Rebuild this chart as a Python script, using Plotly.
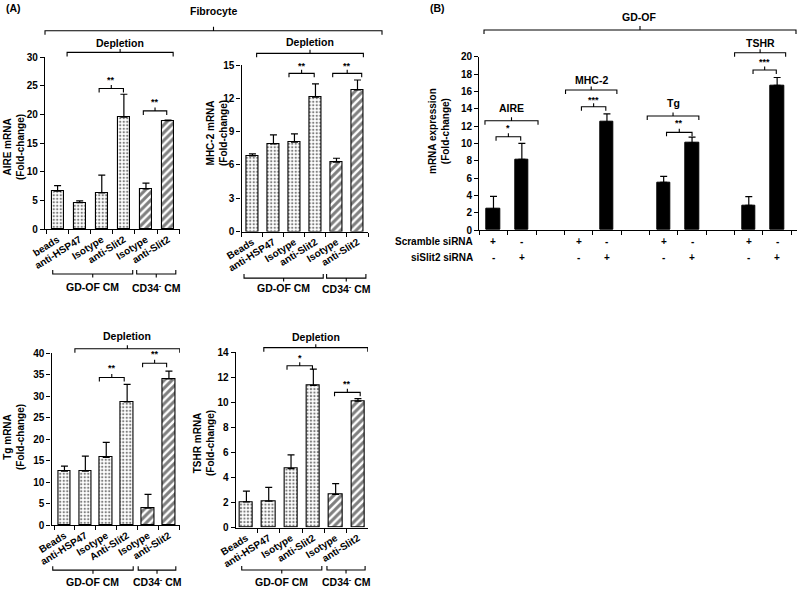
import plotly.graph_objects as go

W, H = 800, 591
FONT = "Arial, Liberation Sans, sans-serif"

# ---------------- data ----------------
labels_aire = ["beads", "anti-HSP47", "Isotype", "anti-Slit2", "Isotype", "anti-Slit2"]
labels_mhc = ["Beads", "anti-HSP47", "Isotype", "anti-Slit2", "Isotype", "anti-Slit2"]
labels_tg = ["Beads", "anti-HSP47", "Isotype", "Anti-Slit2", "Isotype", "anti-Slit2"]
labels_tshr = ["Beads", "anti-HSP47", "Isotype", "anti-Slit2", "Isotype", "anti-Slit2"]

aire_vals = [6.6, 4.6, 6.3, 19.5, 7.0, 18.9]
aire_err = [0.95, 0.3, 3.1, 4.0, 1.0, 0.1]
mhc_vals = [6.8, 7.9, 8.05, 12.1, 6.25, 12.75]
mhc_err = [0.2, 0.8, 0.75, 1.2, 0.35, 0.9]
tg_vals = [12.5, 12.5, 15.7, 28.6, 3.9, 34.0]
tg_err = [1.2, 3.5, 3.5, 4.1, 3.2, 1.8]
tshr_vals = [2.05, 2.1, 4.7, 11.35, 2.65, 10.1]
tshr_err = [0.85, 1.1, 1.1, 1.3, 0.85, 0.2]

genes_b = ["AIRE", "MHC-2", "Tg", "TSHR"]
scramble_vals = [2.42, None, 5.5, 2.85]
scramble_err = [1.45, None, 0.7, 1.0]
siSlit2_vals = [8.15, 12.45, 10.07, 16.7]
siSlit2_err = [1.85, 0.95, 0.65, 0.9]
scramble_signs = ["+", "-"]
siSlit2_signs = ["-", "+"]

fig = go.Figure()

def xdom(a, b):
    return [a / W, b / W]

def ydom(top, bot):
    return [1 - bot / H, 1 - top / H]

dot_pat = dict(shape=".", fgcolor="black", bgcolor="white", size=3.5, solidity=0.35)
hatch_pat = dict(shape="/", fgcolor="black", bgcolor="white", size=5.5, solidity=0.55)

# panel geometry (pixels)
panels = {
    1: dict(x=(45, 180), y=(57, 229), xr=[-0.57, 5.54], ymax=30, dtick=5, bw=0.54),
    2: dict(x=(241.5, 368), y=(65, 231.5), xr=[-0.52, 5.5], ymax=15, dtick=3, bw=0.54),
    3: dict(x=(51.5, 180), y=(353, 525), xr=[-0.62, 5.53], ymax=40, dtick=5, bw=0.6),
    4: dict(x=(235.7, 368), y=(352.3, 527.5), xr=[-0.48, 5.45], ymax=14, dtick=2, bw=0.6),
    5: dict(x=(479.3, 797), y=(56.7, 230), xr=[-0.5, 10.7], ymax=20, dtick=2, bw=0.48),
}

tickfont = dict(family=FONT, size=10, color="black", weight="bold")

def setup_axes(n, ticklabels=None):
    p = panels[n]
    xa = dict(domain=xdom(*p["x"]), range=p["xr"], anchor=f"y{n}", showgrid=False,
              zeroline=False, showline=True, linecolor="black", linewidth=1.3,
              ticks="", fixedrange=True, automargin=False,
              minor=dict(tickvals=[i + 0.5 for i in range(-1, 11)], ticks="outside",
                         ticklen=4, tickwidth=1.2, tickcolor="black", showgrid=False))
    if ticklabels is not None:
        xa.update(tickmode="array", tickvals=list(range(len(ticklabels))),
                  ticktext=ticklabels, tickangle=-32, tickfont=tickfont)
    else:
        xa.update(showticklabels=False, tickvals=[])
    ya = dict(domain=ydom(*p["y"]), range=[0, p["ymax"]], anchor=f"x{n}", showgrid=False,
              zeroline=False, showline=True, linecolor="black", linewidth=1.3,
              ticks="outside", ticklen=4, tickwidth=1.2, tickcolor="black",
              dtick=p["dtick"], tick0=0, tickfont=tickfont, fixedrange=True,
              automargin=False)
    key = "" if n == 1 else str(n)
    fig.update_layout(**{f"xaxis{key}": xa, f"yaxis{key}": ya})

def add_fib_bars(n, vals, errs):
    p = panels[n]
    ax = "" if n == 1 else str(n)
    for grp, idx in (("dot", [0, 1, 2, 3]), ("hatch", [4, 5])):
        fig.add_trace(go.Bar(
            x=idx, y=[vals[i] for i in idx], width=p["bw"],
            xaxis=f"x{ax}", yaxis=f"y{ax}",
            marker=dict(color="white", line=dict(color="black", width=1.1),
                        pattern=dot_pat if grp == "dot" else hatch_pat),
            error_y=dict(type="data", symmetric=False, array=[errs[i] for i in idx],
                         arrayminus=[0] * len(idx), color="black", thickness=1.2, width=3.5),
            showlegend=False, hoverinfo="skip"))

shapes = []
annots = []

def yd(n, v):
    return v / panels[n]["ymax"]

def hpx(n):
    return panels[n]["y"][1] - panels[n]["y"][0]

def bracket(n, x0, x1, y, top=True, label=None, ly=None, size=10):
    ax = "" if n == 1 else str(n)
    y0 = yd(n, y)
    leg = 4.0 / hpx(n)
    tk = 3.5 / hpx(n)
    xm = (x0 + x1) / 2
    s = -1 if top else 1
    path = (f"M {x0},{y0 + s * leg} L {x0},{y0} L {x1},{y0} L {x1},{y0 + s * leg} "
            f"M {xm},{y0} L {xm},{y0 - s * tk}")
    shapes.append(dict(type="path", path=path, xref=f"x{ax}", yref=f"y{ax} domain",
                       line=dict(color="black", width=1.1)))
    if label is not None:
        annots.append(dict(text=label, x=xm, y=yd(n, ly), xref=f"x{ax}", yref=f"y{ax} domain",
                           showarrow=False, xanchor="center", yanchor="middle",
                           font=dict(family=FONT, size=size, color="black", weight="bold")))

def ptext(text, xpx, ypx, size=10, angle=0, xanchor="center"):
    annots.append(dict(text=text, x=xpx / W, y=1 - ypx / H, xref="paper", yref="paper",
                       showarrow=False, xanchor=xanchor, yanchor="middle", textangle=angle,
                       font=dict(family=FONT, size=size, color="black", weight="bold")))

def paper_bracket(x0, x1, ypx):
    xm = (x0 + x1) / 2
    path = (f"M {x0 / W},{1 - (ypx + 4) / H} L {x0 / W},{1 - ypx / H} L {x1 / W},{1 - ypx / H} "
            f"L {x1 / W},{1 - (ypx + 4) / H} M {xm / W},{1 - ypx / H} L {xm / W},{1 - (ypx - 4) / H}")
    shapes.append(dict(type="path", path=path, xref="paper", yref="paper",
                       line=dict(color="black", width=1.1)))

# ---------------- panel A ----------------
for n, labs, vals, errs in ((1, labels_aire, aire_vals, aire_err),
                            (2, labels_mhc, mhc_vals, mhc_err),
                            (3, labels_tg, tg_vals, tg_err),
                            (4, labels_tshr, tshr_vals, tshr_err)):
    setup_axes(n, labs)
    add_fib_bars(n, vals, errs)

# AIRE
bracket(1, 0.43, 5.23, 30.8, True, "Depletion", 32.5, 10.5)
bracket(1, 1.88, 2.98, 24.5, True, "**", 26.0, 9)
bracket(1, 3.88, 4.94, 20.6, True, "**", 22.1, 9)
bracket(1, -0.22, 3.40, -7.85, False, "GD-OF CM", -10.2, 10.5)
bracket(1, 3.58, 5.35, -7.85, False, "CD34<sup>-</sup> CM", -10.2, 10.5)
# MHC-2
bracket(2, 0.20, 5.28, 16.05, True, "Depletion", 17.05, 10.5)
bracket(2, 1.74, 2.94, 14.25, True, "**", 14.95, 9)
bracket(2, 3.82, 5.20, 14.25, True, "**", 14.95, 9)
bracket(2, -0.40, 3.37, -4.2, False, "GD-OF CM", -5.1, 10.5)
bracket(2, 3.53, 5.40, -4.2, False, "CD34<sup>-</sup> CM", -5.1, 10.5)
# Tg
bracket(3, 0.50, 5.52, 40.98, True, "Depletion", 44.0, 10.5)
bracket(3, 1.67, 2.86, 34.3, True, "**", 36.4, 9)
bracket(3, 3.74, 4.89, 37.6, True, "**", 39.7, 9)
bracket(3, -0.56, 3.29, -10.5, False, "GD-OF CM", -13.2, 10.5)
bracket(3, 3.53, 5.33, -10.5, False, "CD34<sup>-</sup> CM", -13.2, 10.5)
# TSHR
bracket(4, 0.78, 5.44, 14.37, True, "Depletion", 15.25, 10.5)
bracket(4, 1.82, 2.96, 12.93, True, "*", 13.55, 9)
bracket(4, 3.95, 5.10, 10.8, True, "**", 11.45, 9)
bracket(4, -0.21, 3.38, -3.4, False, "GD-OF CM", -4.33, 10.5)
bracket(4, 3.61, 5.32, -3.4, False, "CD34<sup>-</sup> CM", -4.33, 10.5)

# axis titles A
ptext("AIRE mRNA<br>(Fold-change)", 14, 147, 10, -90)
ptext("MHC-2 mRNA<br>(Fold-change)", 217, 133, 10, -90)
ptext("Tg mRNA<br>(Fold-change)", 14, 437, 10, -90)
ptext("TSHR mRNA<br>(Fold-change)", 204, 443, 10, -90)

ptext("(A)", 4, 8, 10.5, xanchor="left")
ptext("Fibrocyte", 213.5, 11.5, 10.5)
paper_bracket(45, 382, 30.7)

# ---------------- panel B ----------------
setup_axes(5, None)
scr_x = [3 * g for g in range(len(genes_b))]
si_x = [3 * g + 1 for g in range(len(genes_b))]
for xs, vals, errs in ((scr_x, scramble_vals, scramble_err), (si_x, siSlit2_vals, siSlit2_err)):
    fig.add_trace(go.Bar(
        x=xs, y=vals, width=panels[5]["bw"], xaxis="x5", yaxis="y5",
        marker=dict(color="black", line=dict(color="black", width=1)),
        error_y=dict(type="data", symmetric=False, array=errs, arrayminus=[0] * len(xs),
                     color="black", thickness=1.2, width=3.5),
        showlegend=False, hoverinfo="skip"))

b_brackets = [
    # gene bracket (x0, x1, y, label y), significance bracket (x0, x1, y, label, label y)
    ((-0.30, 1.57, 12.6, 14.1), (0.09, 0.96, 10.77, "*", 11.75)),
    ((2.54, 4.35, 16.16, 17.35), (3.10, 3.96, 14.23, "***", 15.05)),
    ((5.42, 7.24, 13.16, 14.66), (6.10, 7.00, 11.27, "**", 12.4)),
    ((8.50, 10.30, 20.46, 21.6), (9.15, 9.97, 18.47, "***", 19.35)),
]
for g, (gb, sb) in enumerate(b_brackets):
    bracket(5, gb[0], gb[1], gb[2], True, genes_b[g], gb[3], 10.5)
    bracket(5, sb[0], sb[1], sb[2], True, sb[3], sb[4], 9)

for g in range(len(genes_b)):
    for k, xv in enumerate((scr_x[g], si_x[g])):
        annots.append(dict(text=scramble_signs[k], x=xv, y=yd(5, -1.35), xref="x5",
                           yref="y5 domain", showarrow=False, yanchor="middle",
                           font=dict(family=FONT, size=10, color="black", weight="bold")))
        annots.append(dict(text=siSlit2_signs[k], x=xv, y=yd(5, -3.2), xref="x5",
                           yref="y5 domain", showarrow=False, yanchor="middle",
                           font=dict(family=FONT, size=10, color="black", weight="bold")))

ptext("Scramble siRNA", 475, 241.7, 10, xanchor="right")
ptext("siSlit2 siRNA", 475, 257.7, 10, xanchor="right")
ptext("mRNA expression<br>(Fold-change)", 439, 131, 10, -90)
ptext("(B)", 428, 8, 10.5, xanchor="left")
ptext("GD-OF", 639, 16.7, 10.5)
paper_bracket(484, 796, 30)

fig.update_layout(width=W, height=H,
                  margin=dict(l=0, r=0, t=0, b=0, pad=0, autoexpand=False),
                  paper_bgcolor="white", plot_bgcolor="white", bargap=0,
                  shapes=shapes, annotations=annots,
                  font=dict(family=FONT, color="black"))

fig.write_html("out.html", config={"displayModeBar": False},
               post_script="document.body.style.margin='0';document.body.style.overflow='hidden';")
